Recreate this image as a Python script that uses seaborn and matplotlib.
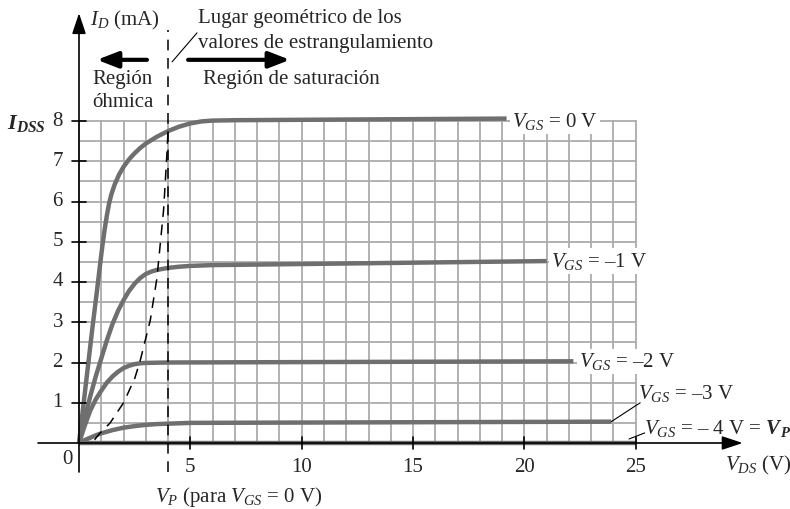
import numpy as np
import pandas as pd
import matplotlib
matplotlib.use("Agg")
import matplotlib.pyplot as plt
import seaborn as sns

# Curves (V_DS in V, I_D in mA)
vds_0 = [0, 0.2, 0.4, 0.6, 0.8, 0.95, 1.05, 1.15, 1.25, 1.35, 1.45, 1.6, 1.8, 2.0,
         2.25, 2.5, 2.75, 3.0, 3.5, 4.0, 4.5, 5.0, 5.5, 6.0, 7.0, 19.2]
id_0 = [0, 0.95, 1.9, 2.85, 3.75, 4.45, 4.9, 5.3, 5.65, 5.95, 6.17, 6.42, 6.67, 6.86,
        7.05, 7.2, 7.33, 7.44, 7.61, 7.75, 7.86, 7.94, 7.99, 8.01, 8.02, 8.06]
vds_1 = [0, 0.25, 0.5, 0.75, 1.0, 1.25, 1.5, 1.75, 2.0, 2.25, 2.5, 2.75, 3.0, 3.25,
         3.5, 4.0, 4.5, 5.0, 6.0, 21.0]
id_1 = [0, 0.6, 1.15, 1.65, 2.1, 2.55, 2.95, 3.28, 3.55, 3.78, 3.96, 4.1, 4.2, 4.26,
        4.3, 4.35, 4.38, 4.4, 4.42, 4.52]
vds_2 = [0, 0.25, 0.5, 0.75, 1.0, 1.25, 1.5, 1.75, 2.0, 2.25, 2.5, 2.75, 3.0, 4.0, 22.2]
id_2 = [0, 0.42, 0.8, 1.08, 1.3, 1.5, 1.65, 1.77, 1.86, 1.92, 1.96, 1.98, 1.99, 2.0, 2.03]
vds_3 = [0, 0.25, 0.5, 0.75, 1.0, 1.5, 2.0, 2.5, 3.0, 3.5, 4.0, 5.0, 23.9]
id_3 = [0, 0.07, 0.13, 0.19, 0.24, 0.32, 0.38, 0.42, 0.45, 0.47, 0.48, 0.5, 0.53]
vds_4 = [0, 25.0]
id_4 = [0, 0]

vgs_values = [0, -1, -2, -3, -4]

# Pinch-off locus (dashed)
locus_vds = [0.7, 0.9, 1.4, 2.0, 2.5, 2.75, 3.2, 3.5, 3.8, 3.95, 4.0]
locus_id = [0.08, 0.22, 0.5, 1.0, 1.6, 2.05, 3.05, 4.1, 5.8, 7.2, 7.8]

vp = 4.0
idss = 8.0
x_ticks = [5, 10, 15, 20, 25]
y_ticks = [1, 2, 3, 4, 5, 6, 7, 8]

curve_labels = ["$V_{GS}$ = 0 V", "$V_{GS}$ = –1 V", "$V_{GS}$ = –2 V",
                "$V_{GS}$ = –3 V", "$V_{GS}$ = – 4 V = $\\mathbfit{V}_{\\mathbfit{P}}$"]

sns.set_style("white")
plt.rcParams["font.family"] = ["Liberation Serif", "DejaVu Serif"]
plt.rcParams["mathtext.fontset"] = "custom"
plt.rcParams["mathtext.rm"] = "Liberation Serif"
plt.rcParams["mathtext.it"] = "Liberation Serif:italic"
plt.rcParams["mathtext.bf"] = "Liberation Serif:bold"
plt.rcParams["mathtext.bfit"] = "Liberation Serif:italic:bold"

curve_c = "#6f6f6f"
grid_c = "#ababab"
fs = 15

fig = plt.figure(figsize=(7.9, 5.09), dpi=100)
ax = fig.add_axes([0, 0, 1, 1])
ax.set_xlim(-79 / 22.27, (790 - 79) / 22.27)
ax.set_ylim(-(509 - 443) / 40.25, 443 / 40.25)
ax.axis("off")

# grid
for v in np.arange(0, 26, 1):
    ax.plot([v, v], [0, idss], color=grid_c, lw=1.3, zorder=1)
for i in np.arange(0.5, 8.01, 0.5):
    ax.plot([0, 25], [i, i], color=grid_c, lw=1.3, zorder=1)

# curves
frames = []
for vgs, xs, ys in zip(vgs_values, [vds_0, vds_1, vds_2, vds_3, vds_4],
                       [id_0, id_1, id_2, id_3, id_4]):
    frames.append(pd.DataFrame({"vds": xs, "id": ys, "vgs": vgs}))
df = pd.concat(frames, ignore_index=True)
sns.lineplot(data=df, x="vds", y="id", hue="vgs", units="vgs", estimator=None,
             palette={v: curve_c for v in vgs_values}, sort=False, legend=False,
             lw=3.2, ax=ax, zorder=3, solid_capstyle="butt", solid_joinstyle="round")

# locus and V_P line
ax.plot(locus_vds, locus_id, color="k", lw=1.1, ls=(0, (7, 5)), zorder=4)
ax.plot([vp, vp], [-0.72, 10.26], color="k", lw=1.1, ls=(0, (7, 5)), zorder=4)

# axes with arrows
ax.annotate("", xy=(29.8, 0), xytext=(-1.84, 0), zorder=6,
            arrowprops=dict(arrowstyle="-|>,head_length=0.9,head_width=0.3",
                            color="k", lw=1.2, mutation_scale=14, shrinkA=0, shrinkB=0))
ax.annotate("", xy=(0, 10.68), xytext=(0, -0.72), zorder=6,
            arrowprops=dict(arrowstyle="-|>,head_length=0.9,head_width=0.3",
                            color="k", lw=1.2, mutation_scale=14, shrinkA=0, shrinkB=0))

# ticks and tick labels
for t in x_ticks:
    ax.plot([t, t], [-0.15, 0.15], color="k", lw=1.2, zorder=6)
    ax.text(t, -0.6, str(t), ha="center", va="center", fontsize=fs)
for t in y_ticks:
    ax.plot([-0.3, 0.3], [t, t], color="k", lw=1.2, zorder=6)
    ax.text(-0.72, t, str(t), ha="right", va="center", fontsize=fs)
ax.text(-0.5, -0.42, "0", ha="center", va="center", fontsize=fs)
ax.text(-1.5, idss - 0.05, "$\\mathbfit{I}_{\\mathbfit{DSS}}$", ha="right", va="center", fontsize=fs + 1)

# curve labels
box = dict(facecolor="white", edgecolor="none", pad=1.5)
ax.text(vds_0[-1] + 0.25, 8.0, curve_labels[0], ha="left", va="center", fontsize=fs, bbox=box, zorder=5)
ax.text(vds_1[-1] + 0.2, id_1[-1], curve_labels[1], ha="left", va="center", fontsize=fs, bbox=box, zorder=5)
ax.text(vds_2[-1] + 0.25, id_2[-1], curve_labels[2], ha="left", va="center", fontsize=fs, bbox=box, zorder=5)
ax.text(25.1, 1.24, curve_labels[3], ha="left", va="center", fontsize=fs, zorder=5)
ax.text(25.35, 0.37, curve_labels[4], ha="left", va="center", fontsize=fs, zorder=5)
ax.plot([vds_3[-1], 25.2], [id_3[-1], 1.0], color="k", lw=0.8, zorder=5)
ax.plot([24.7, 25.4], [0.1, 0.25], color="k", lw=0.8, zorder=5)

# annotations at top
ax.text(0.49, 10.5, "$I_D$ (mA)", ha="left", va="center", fontsize=fs)
ax.text(5.35, 10.55, "Lugar geométrico de los", ha="left", va="center", fontsize=fs)
ax.text(5.35, 9.92, "valores de estrangulamiento", ha="left", va="center", fontsize=fs)
ax.plot([4.18, 5.3], [9.47, 10.19], color="k", lw=0.8)
ax.annotate("", xy=(0.81, 9.52), xytext=(3.05, 9.52),
            arrowprops=dict(arrowstyle="-|>,head_length=0.9,head_width=0.35",
                            color="k", lw=3, mutation_scale=14, shrinkA=0, shrinkB=0))
ax.annotate("", xy=(9.47, 9.52), xytext=(4.9, 9.52),
            arrowprops=dict(arrowstyle="-|>,head_length=0.9,head_width=0.35",
                            color="k", lw=3, mutation_scale=14, shrinkA=0, shrinkB=0))
ax.text(0.58, 9.03, "Región", ha="left", va="center", fontsize=fs)
ax.text(0.58, 8.47, "óhmica", ha="left", va="center", fontsize=fs)
ax.text(5.57, 9.03, "Región de saturación", ha="left", va="center", fontsize=fs)

# bottom labels
ax.text(7.17, -1.34, "$V_P$ (para $V_{GS}$ = 0 V)", ha="center", va="center", fontsize=fs)
ax.text(29.0, -0.55, "$V_{DS}$ (V)", ha="left", va="center", fontsize=fs)

fig.savefig("out.png", dpi=100)
